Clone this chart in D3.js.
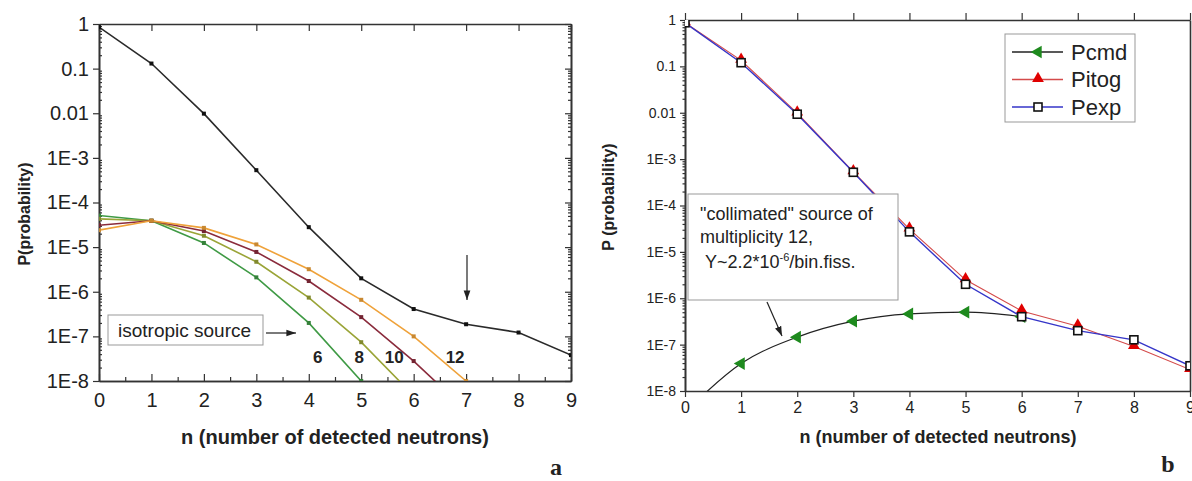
<!DOCTYPE html>
<html>
<head>
<meta charset="utf-8">
<script src="https://cdn.jsdelivr.net/npm/d3@7"></script>
<style>
body{margin:0;background:#fff;}
svg text{font-family:"Liberation Sans",Arial,sans-serif;fill:#222;}
.domain{stroke:#333;stroke-width:1.6;}
.tick line{stroke:#333;stroke-width:1.2;}
</style>
</head>
<body>
<div class="container"></div>
<script>
// data
var nVals = [0,1,2,3,4,5,6,7,8,9];
var decades = [1e-8,1e-7,1e-6,1e-5,1e-4,1e-3,0.01,0.1,1];
var decadeLabels = ["1E-8","1E-7","1E-6","1E-5","1E-4","1E-3","0.01","0.1","1"];

// panel a
var totalA = [0.85,0.13,0.0098,5.3e-4,2.8e-5,2.0e-6,4.1e-7,1.87e-7,1.22e-7,3.8e-8];
var iso6  = [5.1e-5,3.9e-5,1.24e-5,2.1e-6,2.0e-7,1.0e-8,3e-10];
var iso8  = [4.3e-5,3.9e-5,1.8e-5,4.7e-6,7.4e-7,7.4e-8,4.7e-9];
var iso10 = [3.1e-5,3.9e-5,2.3e-5,7.8e-6,1.74e-6,2.7e-7,2.8e-8,2.2e-9];
var iso12 = [2.4e-5,3.9e-5,2.7e-5,1.15e-5,3.2e-6,6.6e-7,1.0e-7,1.0e-8];
var isoNames = ["6","8","10","12"];
var isoColors = ["#3f9a45","#9aa437","#8a2b3c","#efa23a"];

// panel b
var pcmd  = [3.5e-9,3.9e-8,1.45e-7,3.2e-7,4.6e-7,5.0e-7,4.0e-7];
var pitog = [0.87,0.135,0.0098,5.3e-4,3.1e-5,2.5e-6,5.3e-7,2.5e-7,9.1e-8,2.9e-8];
var pexp  = [0.87,0.12,0.0093,5.2e-4,2.7e-5,2.0e-6,4.0e-7,2.0e-7,1.27e-7,3.5e-8];
var legendNames = ["Pcmd","Pitog","Pexp"];

var svg = d3.select('.container').append('svg').attr("width",1192).attr("height",481);

var minorTicks = [];
decades.slice(0,8).forEach(function(d){
  for (var k=2;k<10;k++) minorTicks.push(d*k);
});
var halfTicks = d3.range(0.5,9,1);

// ---------- panel a ----------
var xA = d3.scaleLinear().domain([0,9]).range([99,571]);
var yA = d3.scaleLog().domain([1e-8,1]).range([381,24]);

svg.append("clipPath").attr("id","clipA").append("rect")
  .attr("x",99).attr("y",24).attr("width",472).attr("height",357);

var gA = svg.append("g");
gA.append("g").attr("transform","translate(0,381)")
  .call(d3.axisBottom(xA).tickValues(nVals).tickSize(-7).tickSizeOuter(0).tickPadding(12))
  .selectAll("text").style("font-size","20px");
gA.append("g").attr("transform","translate(0,381)")
  .call(d3.axisBottom(xA).tickValues(halfTicks).tickSize(-4).tickSizeOuter(0).tickFormat(""));
gA.append("g").attr("transform","translate(0,24)")
  .call(d3.axisTop(xA).tickValues(nVals).tickSize(-7).tickSizeOuter(0).tickFormat(""));
gA.append("g").attr("transform","translate(99,0)")
  .call(d3.axisLeft(yA).tickValues(decades).tickSize(6).tickSizeOuter(0).tickPadding(4)
    .tickFormat(function(d,i){return decadeLabels[i];}))
  .selectAll("text").style("font-size","20px");
gA.append("g").attr("transform","translate(99,0)")
  .call(d3.axisLeft(yA).tickValues(minorTicks).tickSize(-3).tickSizeOuter(0).tickFormat(""));
gA.append("g").attr("transform","translate(571,0)")
  .call(d3.axisRight(yA).tickValues(decades).tickSize(-6).tickSizeOuter(0).tickFormat(""));
gA.append("g").attr("transform","translate(571,0)")
  .call(d3.axisRight(yA).tickValues(minorTicks).tickSize(-3).tickSizeOuter(0).tickFormat(""));

var lineA = d3.line().x(function(d,i){return xA(i);}).y(function(d){return yA(d);});
var plotA = gA.append("g").attr("clip-path","url(#clipA)");

[iso6,iso8,iso10,iso12].forEach(function(s,k){
  plotA.append("path").attr("d",lineA(s)).attr("fill","none")
    .attr("stroke",isoColors[k]).attr("stroke-width",1.6);
  plotA.selectAll(null).data(s).enter().append("rect")
    .attr("x",function(d,i){return xA(i)-2;}).attr("y",function(d){return yA(d)-2;})
    .attr("width",4).attr("height",4)
    .attr("fill",d3.color(isoColors[k]).darker(0.5));
});
plotA.append("path").attr("d",lineA(totalA)).attr("fill","none")
  .attr("stroke","#2a2a2a").attr("stroke-width",1.6);
plotA.selectAll(null).data(totalA).enter().append("rect")
  .attr("x",function(d,i){return xA(i)-2;}).attr("y",function(d){return yA(d)-2;})
  .attr("width",4).attr("height",4).attr("fill","#111");

// multiplicity labels
var isoLabelPos = [[4.17,3.4e-8],[4.96,3.4e-8],[5.63,3.4e-8],[6.79,3.4e-8]];
gA.selectAll(null).data(isoNames).enter().append("text")
  .attr("x",function(d,i){return xA(isoLabelPos[i][0]);})
  .attr("y",function(d,i){return yA(isoLabelPos[i][1]);})
  .attr("text-anchor","middle").attr("dy","0.35em")
  .style("font-size","17px").style("font-weight","bold").text(function(d){return d;});

// isotropic source box
gA.append("rect").attr("x",108).attr("y",315).attr("width",155).attr("height",30)
  .attr("fill","#fff").attr("stroke","#999").attr("stroke-width",1);
gA.append("text").attr("x",118).attr("y",337).style("font-size","19px").text("isotropic source");
svg.append("defs").append("marker").attr("id","arr").attr("viewBox","0 0 10 10")
  .attr("refX",10).attr("refY",5).attr("markerWidth",8).attr("markerHeight",8)
  .attr("orient","auto-start-reverse")
  .append("path").attr("d","M0,1.5L10,5L0,8.5Z").attr("fill","#222");
gA.append("line").attr("x1",266).attr("y1",333).attr("x2",296).attr("y2",333)
  .attr("stroke","#222").attr("stroke-width",1.2).attr("marker-end","url(#arr)");
gA.append("line").attr("x1",467).attr("y1",255).attr("x2",467).attr("y2",300)
  .attr("stroke","#222").attr("stroke-width",1.2).attr("marker-end","url(#arr)");

gA.append("text").attr("transform","translate(30,214) rotate(-90)")
  .attr("text-anchor","middle").style("font-size","16px").style("font-weight","bold")
  .text("P(probability)");
gA.append("text").attr("x",335).attr("y",444).attr("text-anchor","middle")
  .style("font-size","20px").style("font-weight","bold").text("n (number of detected neutrons)");
gA.append("text").attr("x",556).attr("y",475).attr("text-anchor","middle")
  .style("font-family","'Liberation Serif','DejaVu Serif',serif").style("font-size","24px")
  .style("font-weight","bold").text("a");

// ---------- panel b ----------
var xB = d3.scaleLinear().domain([0,9]).range([685,1190]);
var yB = d3.scaleLog().domain([1e-8,1]).range([391,20]);

svg.append("clipPath").attr("id","clipB").append("rect")
  .attr("x",685).attr("y",20).attr("width",505).attr("height",371);

var gB = svg.append("g");
gB.append("g").attr("transform","translate(0,391)")
  .call(d3.axisBottom(xB).tickValues(nVals).tickSize(6).tickSizeOuter(0).tickPadding(5))
  .selectAll("text").style("font-size","16px");
gB.append("g").attr("transform","translate(0,20)")
  .call(d3.axisTop(xB).tickValues(nVals).tickSize(7).tickSizeOuter(0).tickFormat(""));
gB.append("g").attr("transform","translate(685,0)")
  .call(d3.axisLeft(yB).tickValues(decades).tickSize(5).tickSizeOuter(0).tickPadding(4)
    .tickFormat(function(d,i){return decadeLabels[i];}))
  .selectAll("text").style("font-size","14px");
gB.append("g").attr("transform","translate(685,0)")
  .call(d3.axisLeft(yB).tickValues(minorTicks).tickSize(2.5).tickSizeOuter(0).tickFormat(""));
gB.append("g").attr("transform","translate(1190,0)")
  .call(d3.axisRight(yB).tickValues([]).tickSizeOuter(0));

var plotB = gB.append("g").attr("clip-path","url(#clipB)");
var lineB = d3.line().x(function(d,i){return xB(i);}).y(function(d){return yB(d);});
var curveB = d3.line().curve(d3.curveMonotoneX).x(function(d,i){return xB(i);}).y(function(d){return yB(d);});

plotB.append("path").attr("d",curveB(pcmd)).attr("fill","none").attr("stroke","#222").attr("stroke-width",1.2);
plotB.selectAll(null).data(pcmd).enter().append("path")
  .attr("d",d3.symbol().type(d3.symbolTriangle).size(70))
  .attr("transform",function(d,i){return "translate("+xB(i)+","+yB(d)+") rotate(-90)";})
  .attr("fill","#1e8a1e");
plotB.append("path").attr("d",lineB(pitog)).attr("fill","none").attr("stroke","#d44a4a").attr("stroke-width",1.1);
plotB.selectAll(null).data(pitog).enter().append("path")
  .attr("d",d3.symbol().type(d3.symbolTriangle).size(60))
  .attr("transform",function(d,i){return "translate("+xB(i)+","+(yB(d)-1)+")";})
  .attr("fill","#e00000");
plotB.append("path").attr("d",lineB(pexp)).attr("fill","none").attr("stroke","#3535c8").attr("stroke-width",1.4);
plotB.selectAll(null).data(pexp).enter().append("rect")
  .attr("x",function(d,i){return xB(i)-4;}).attr("y",function(d){return yB(d)-4;})
  .attr("width",8).attr("height",8).attr("fill","#fff").attr("stroke","#111").attr("stroke-width",1.6);

// legend
var lg = gB.append("g");
lg.append("rect").attr("x",1005).attr("y",34).attr("width",130).attr("height",88)
  .attr("fill","#fff").attr("stroke","#999");
var legColors = ["#222","#d44a4a","#3535c8"];
legendNames.forEach(function(name,i){
  var yy = 52 + i*27.5;
  lg.append("line").attr("x1",1012).attr("x2",1063).attr("y1",yy).attr("y2",yy)
    .attr("stroke",legColors[i]).attr("stroke-width",1.3);
  if (i===0) lg.append("path").attr("d",d3.symbol().type(d3.symbolTriangle).size(70)())
    .attr("transform","translate(1038,"+yy+") rotate(-90)").attr("fill","#1e8a1e");
  if (i===1) lg.append("path").attr("d",d3.symbol().type(d3.symbolTriangle).size(60)())
    .attr("transform","translate(1038,"+(yy-1)+")").attr("fill","#e00000");
  if (i===2) lg.append("rect").attr("x",1034).attr("y",yy-4).attr("width",8).attr("height",8)
    .attr("fill","#fff").attr("stroke","#111").attr("stroke-width",1.6);
  lg.append("text").attr("x",1071).attr("y",yy).attr("dy","0.35em")
    .style("font-size","22px").text(name);
});

// annotation
gB.append("rect").attr("x",688).attr("y",194).attr("width",210).attr("height",106)
  .attr("fill","#fff").attr("stroke","#999");
gB.append("text").attr("x",700).attr("y",220).style("font-size","18px").text('"collimated" source of');
gB.append("text").attr("x",700).attr("y",243).style("font-size","18px").text('multiplicity 12,');
var t3 = gB.append("text").attr("x",705).attr("y",268).style("font-size","18px");
t3.append("tspan").text("Y~2.2*10");
t3.append("tspan").attr("dy",-7).style("font-size","11px").text("-6");
t3.append("tspan").attr("dy",7).text("/bin.fiss.");
gB.append("line").attr("x1",767).attr("y1",302).attr("x2",782).attr("y2",336)
  .attr("stroke","#222").attr("stroke-width",1.2).attr("marker-end","url(#arr)");

gB.append("text").attr("transform","translate(614,197) rotate(-90)")
  .attr("text-anchor","middle").style("font-size","16px").style("font-weight","bold")
  .text("P (probability)");
gB.append("text").attr("x",938).attr("y",443).attr("text-anchor","middle")
  .style("font-size","18px").style("font-weight","bold").text("n (number of detected neutrons)");
gB.append("text").attr("x",1168).attr("y",472).attr("text-anchor","middle")
  .style("font-family","'Liberation Serif','DejaVu Serif',serif").style("font-size","24px")
  .style("font-weight","bold").text("b");
</script>
</body>
</html>
